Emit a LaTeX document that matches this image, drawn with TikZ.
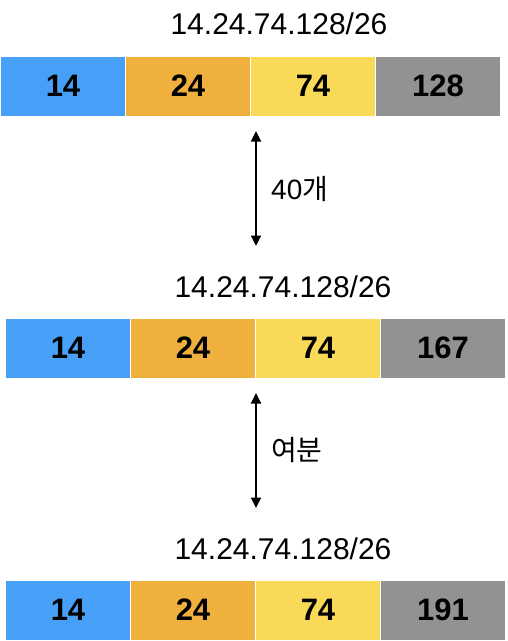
\documentclass[tikz,border=0pt]{standalone}
\usepackage{fontspec}
\setmainfont{Liberation Sans}
\newfontfamily\krfont{Noto Sans CJK KR}
\usetikzlibrary{arrows.meta}
\definecolor{cblue}{HTML}{479FF8}
\definecolor{corange}{HTML}{F0B03E}
\definecolor{cyellow}{HTML}{F8DA58}
\definecolor{cgray}{HTML}{929292}
\begin{document}
\begin{tikzpicture}[x=1pt,y=-1pt,
  cell/.style={draw=white,line width=1pt,minimum width=125pt,minimum height=60pt,inner sep=0pt,
    font=\fontsize{31}{36}\selectfont\bfseries,text=black},
  title/.style={font=\fontsize{30}{35}\selectfont,inner sep=0pt},
  lbl/.style={font=\fontsize{28}{32}\selectfont,inner sep=0pt,anchor=west},
  dbl/.style={line width=1.8pt,{Triangle[length=10.5pt,width=10pt]}-{Triangle[length=10.5pt,width=10pt]}}]
\useasboundingbox (0,0) rectangle (507,641);
% row 1
\node[title] (t1) at (279,24) {14.24.74.128/26};
\node[cell,fill=cblue]   (r1a) at (63,86) {14};
\node[cell,fill=corange] (r1b) at (188,86) {24};
\node[cell,fill=cyellow] (r1c) at (313,86) {74};
\node[cell,fill=cgray]   (r1d) at (438,86) {128};
% row 2
\node[title] (t2) at (283,287) {14.24.74.128/26};
\node[cell,fill=cblue]   (r2a) at (68,348) {14};
\node[cell,fill=corange] (r2b) at (193,348) {24};
\node[cell,fill=cyellow] (r2c) at (318,348) {74};
\node[cell,fill=cgray]   (r2d) at (443,348) {167};
% row 3
\node[title] (t3) at (283,549) {14.24.74.128/26};
\node[cell,fill=cblue]   (r3a) at (68,610) {14};
\node[cell,fill=corange] (r3b) at (193,610) {24};
\node[cell,fill=cyellow] (r3c) at (318,610) {74};
\node[cell,fill=cgray]   (r3d) at (443,610) {191};
% arrows
\coordinate (a1s) at (256,131);
\coordinate (a1e) at (256,246);
\coordinate (a2s) at (256,393);
\coordinate (a2e) at (256,508);
\draw[dbl] (a1s) -- (a1e);
\draw[dbl] (a2s) -- (a2e);
\node[lbl] (l1) at (271,189) {40{\krfont 개}};
\node[lbl] (l2) at (271,450) {\krfont 여분};
\end{tikzpicture}
\end{document}
